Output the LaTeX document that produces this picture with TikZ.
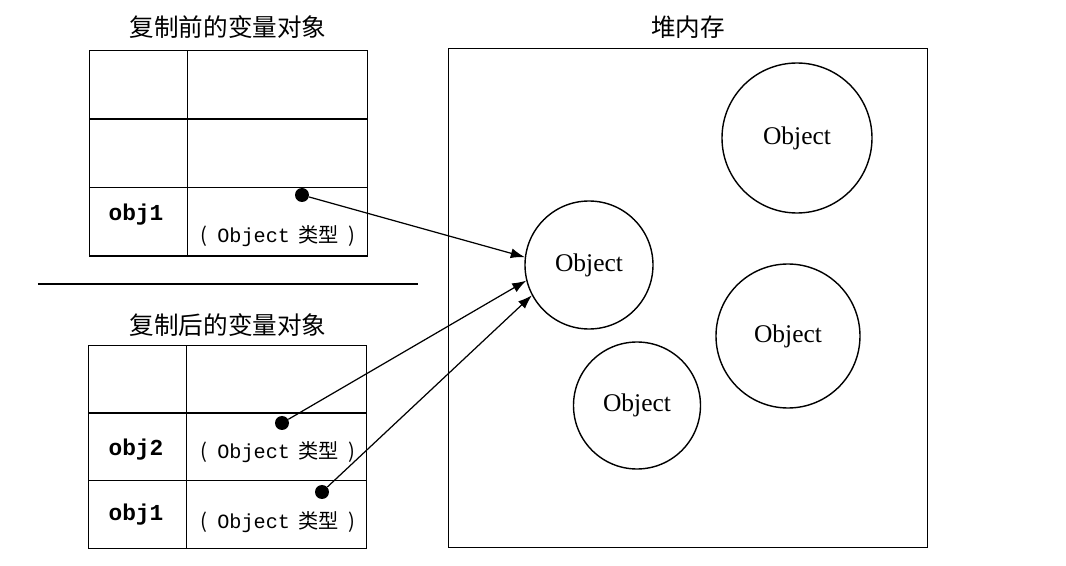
\documentclass[tikz,border=0pt]{standalone}
\usepackage{fontspec}
\setmainfont{Liberation Serif}
\setmonofont{Liberation Mono}
\newfontfamily\cjk{Noto Sans CJK SC}
\usetikzlibrary{arrows.meta,positioning}
\tikzset{
  cell/.style={draw=black, line width=0.8pt, anchor=north west, inner sep=0pt, minimum height=1.37cm},
  keycell/.style={cell, minimum width=1.96cm},
  valcell/.style={cell, minimum width=3.6cm},
  obj/.style={draw=black, circle, line width=0.8pt, inner sep=0pt, font=\fontsize{14.5}{16}\selectfont},
  heading/.style={font=\cjk\fontsize{14}{16}\selectfont},
  varname/.style={font=\ttfamily\bfseries\fontsize{13}{15}\selectfont},
  vartype/.style={font=\fontsize{11.5}{13}\selectfont},
  ref/.style={circle, fill=black, minimum size=2.8mm, inner sep=0pt},
  arrow/.style={-{Latex[length=2.8mm,width=2mm]}, line width=0.7pt}
}
\newcommand{\objtype}{{\cjk (}\hspace{0.5em}\texttt{Object}\hspace{0.4em}{\cjk 类型}\hspace{0.5em}{\cjk )}}

\begin{document}
\begin{tikzpicture}
\useasboundingbox (0,0) rectangle (21.32,-11.32);
% variables before copy
\node[heading] (tbefore) at (4.56,-0.54) {复制前的变量对象};
\node[keycell] (b1k) at (1.78,-1.0) {};
\node[valcell] (b1v) at (3.74,-1.0) {};
\node[keycell] (b2k) at (1.78,-2.37) {};
\node[valcell] (b2v) at (3.74,-2.37) {};
\node[keycell] (b3k) at (1.78,-3.74) {};
\node[valcell] (b3v) at (3.74,-3.74) {};
\node[varname] (b3name) at (2.72,-4.3) {obj1};
\node[vartype] (b3type) at (5.56,-4.72) {\objtype};
\node[ref] (bref1) at (6.04,-3.9) {};
% separator
\draw[line width=1.6pt] (0.76,-5.68) -- (8.36,-5.68);
% variables after copy
\node[heading] (tafter) at (4.56,-6.5) {复制后的变量对象};
\node[keycell, minimum height=1.35cm] (a1k) at (1.76,-6.9) {};
\node[valcell, minimum height=1.35cm] (a1v) at (3.72,-6.9) {};
\node[keycell, minimum height=1.35cm] (a2k) at (1.76,-8.25) {};
\node[valcell, minimum height=1.35cm] (a2v) at (3.72,-8.25) {};
\node[keycell, minimum height=1.35cm] (a3k) at (1.76,-9.6) {};
\node[valcell, minimum height=1.35cm] (a3v) at (3.72,-9.6) {};
\node[varname] (a2name) at (2.72,-9.0) {obj2};
\node[vartype] (a2type) at (5.56,-9.04) {\objtype};
\node[varname] (a3name) at (2.72,-10.3) {obj1};
\node[vartype] (a3type) at (5.56,-10.44) {\objtype};
\node[ref] (aref2) at (5.64,-8.46) {};
\node[ref] (aref1) at (6.44,-9.84) {};
% heap
\node[heading] (theap) at (13.76,-0.54) {堆内存};
\node[draw=black, line width=0.8pt, anchor=north west, minimum width=9.58cm, minimum height=9.98cm] (heap) at (8.96,-0.96) {};
\node[obj, minimum size=2.56cm] (o1) at (11.78,-5.3) {Object};
\node[obj, minimum size=3.0cm] (o2) at (15.94,-2.76) {Object};
\node[obj, minimum size=2.88cm] (o3) at (15.76,-6.72) {Object};
\node[obj, minimum size=2.54cm] (o4) at (12.74,-8.11) {Object};
% references
\draw[arrow] (bref1) -- (o1.173);
\draw[arrow] (aref2) -- (o1.194);
\draw[arrow] (aref1) -- (o1.208);
\end{tikzpicture}
\end{document}
